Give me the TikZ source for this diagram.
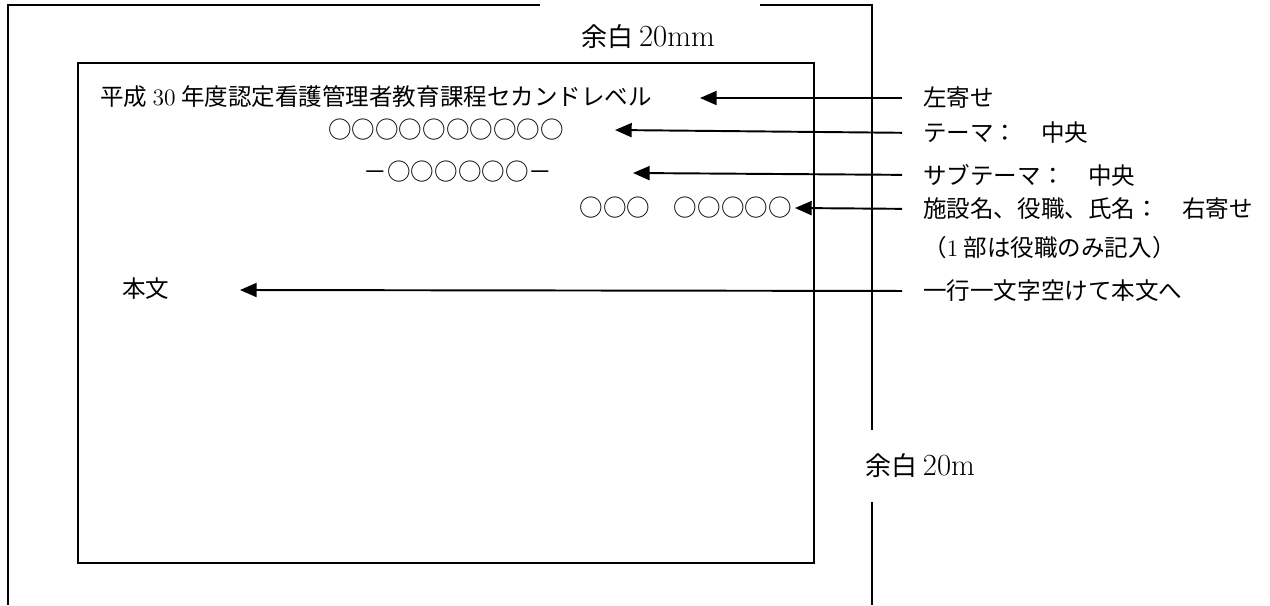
\documentclass[tikz,border=0pt]{standalone}
\usepackage{fontspec}
\newfontfamily\jpfont{Noto Sans CJK JP}
\usetikzlibrary{arrows.meta, positioning, calc}
\newcommand{\lat}[1]{{\rmfamily #1}}
\newcommand{\biglat}[1]{{\rmfamily\fontsize{17.5}{20}\selectfont #1}}

\begin{document}
\begin{tikzpicture}[x=0.02cm, y=-0.02cm,
  txt/.style={inner sep=0pt, font=\jpfont\fontsize{13.4}{16}\selectfont},
  margintxt/.style={inner sep=0pt, font=\jpfont\fontsize{14.8}{18}\selectfont},
  frame/.style={line width=0.9pt, black},
  pointer/.style={-{Triangle[length=9.5pt, width=8pt]}, line width=1.1pt, shorten <=0.42cm}]
  \useasboundingbox (0,0) rectangle (1270,605);
  % Paper edge, broken where the margin labels sit
  \draw[frame] (540,5) -- (8,5) -- (8,605);
  \draw[frame] (760,5) -- (872,5) -- (872,430);
  \draw[frame] (872,502) -- (872,605);
  % Text area
  \draw[frame] (78,63) rectangle (814,563);
  % Margin labels
  \node[margintxt] (mtop) at (648,37) {余白 \biglat{20mm}};
  \node[margintxt] (mright) at (920,466) {余白 \biglat{20m}};
  % Sample page
  \node[txt, anchor=west] (title) at (100,97) {平成 \lat{30} 年度認定看護管理者教育課程セカンドレベル};
  \node[txt] (theme) at (446,130) {○○○○○○○○○○};
  \node[txt] (subtheme) at (458,172) {－○○○○○○－};
  \node[txt, anchor=east] (author) at (792,208) {○○○　○○○○○};
  \node[txt, anchor=west] (body) at (122,289) {本文};
  % Notes on the right
  \foreach \nm/\yy/\lbl in
    {nLeft/98/{左寄せ}, nTheme/133/{テーマ：　中央}, nSub/175/{サブテーマ：　中央},
     nAuthor/209/{施設名、役職、氏名：　右寄せ}, nBody/291/{一行一文字空けて本文へ}} {
    \node[txt, anchor=west] (\nm) at (923,\yy) {\lbl};
  }
  \node[txt, anchor=west] (nPost) at (923,248) {（\lat{1} 部は役職のみ記入）};
  % Arrow tips
  \coordinate (tTitle) at (700,98);
  \coordinate (tTheme) at (615,130);
  \coordinate (tSub) at (633,173);
  \coordinate (tAuthor) at (795,208);
  \coordinate (tBody) at (240,290);
  \draw[pointer] (nLeft.west) -- (tTitle);
  \draw[pointer] (nTheme.west) -- (tTheme);
  \draw[pointer] (nSub.west) -- (tSub);
  \draw[pointer] (nAuthor.west) -- (tAuthor);
  \draw[pointer] (nBody.west) -- (tBody);
\end{tikzpicture}
\end{document}
